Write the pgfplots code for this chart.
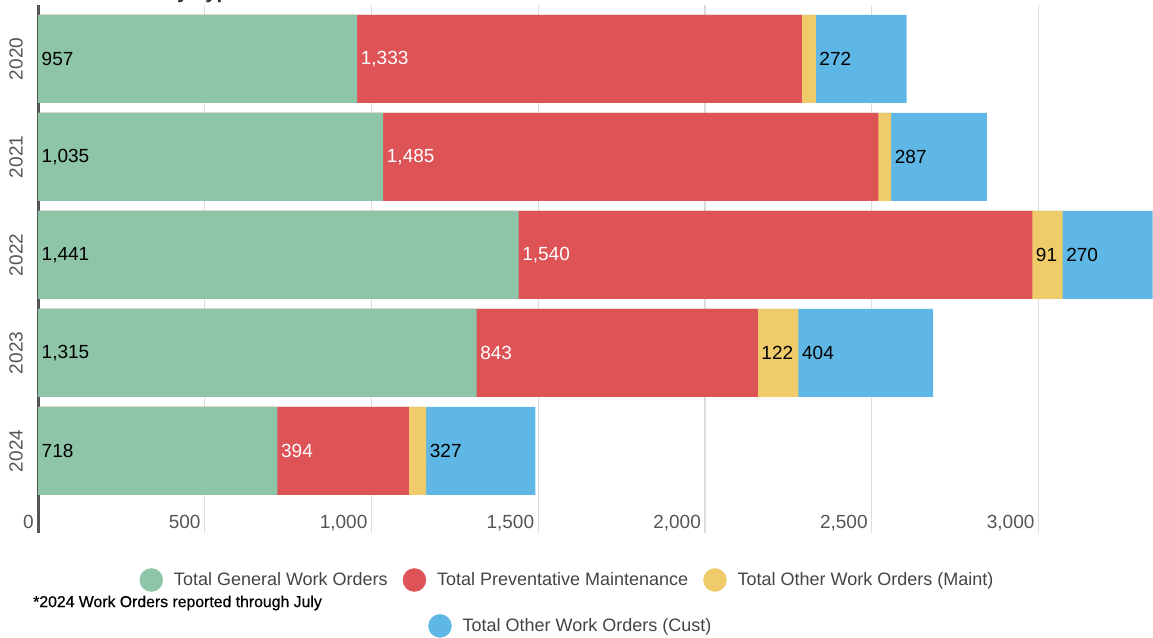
\documentclass[border=0pt]{standalone}
\usepackage{fontspec}
\setmainfont{Liberation Sans}
\newfontfamily\notefont[FakeBold=0.6]{Liberation Sans}
\usepackage{pgfplots}
\pgfplotsset{compat=1.18}
\usepackage{pgfplotstable}
\definecolor{gcol}{HTML}{8EC4A8}
\definecolor{rcol}{HTML}{DD5356}
\definecolor{ycol}{HTML}{F0CB6A}
\definecolor{bcol}{HTML}{5FB7E5}
\definecolor{gridcol}{HTML}{DCDCDC}
\definecolor{axcol}{HTML}{555555}
\definecolor{tickcol}{HTML}{555555}
\definecolor{legcol}{HTML}{444444}
\newcommand{\labfont}{\fontsize{19}{22}\selectfont}
\pgfplotstableread{
year pos G P M C
2020 4 957 1333 42 272
2021 3 1035 1485 38 287
2022 2 1441 1540 91 270
2023 1 1315 843 122 404
2024 0 718 394 52 327
}\datatable
\begin{document}
\begin{tikzpicture}[x=1pt,y=1pt]
\useasboundingbox (0,0) rectangle (1153,637);
\node[anchor=base west, inner sep=0pt, font=\fontsize{20.5}{24}\selectfont\bfseries, text=black!80] at (35,638) {Work Orders by Type};
\begin{axis}[
  at={(38pt,104pt)}, anchor=south west,
  scale only axis, width=1115pt, height=528pt,
  xmin=0, xmax=3343, ymin=-0.837, ymax=4.551,
  axis x line*=bottom, axis y line*=left,
  separate axis lines,
  x axis line style={draw=none},
  y axis line style={draw=axcol, line width=3pt, -},
  major tick length=0pt,
  xtick={0,500,1000,1500,2000,2500,3000},
  scaled x ticks=false,
  ytick={0,1,2,3,4},
  yticklabels={2024,2023,2022,2021,2020},
  xmajorgrids=true,
  major grid style={draw=gridcol, line width=1.3pt},
  /pgf/number format/.cd, 1000 sep={,}, assume math mode=true, /pgfplots/.cd,
  xticklabel style={anchor=base east, inner sep=0pt, xshift=-4pt, yshift=5pt, font=\labfont, text=tickcol},
  yticklabel style={rotate=90, anchor=south, inner sep=0pt, font=\labfont, text=tickcol},
  yticklabel shift=15pt,
  legend columns=3,
  legend style={at={(axis description cs:0.474,-0.089)}, anchor=center, draw=none, fill=none,
    font=\fontsize{18}{21}\selectfont, text=legcol,
    nodes={inner sep=0pt},
    cells={anchor=west},
    /tikz/every odd column/.append style={column sep=11pt},
    /tikz/every even column/.append style={column sep=15pt}},
]
% bars drawn as overlapping cumulative segments (longest first)
\addplot[xbar, bar width=88pt, bar shift=0pt, fill=bcol, draw=none, forget plot]
  table[x expr=\thisrow{G}+\thisrow{P}+\thisrow{M}+\thisrow{C}, y=pos] {\datatable};
\addplot[xbar, bar width=88pt, bar shift=0pt, fill=ycol, draw=none, forget plot]
  table[x expr=\thisrow{G}+\thisrow{P}+\thisrow{M}, y=pos] {\datatable};
\addplot[xbar, bar width=88pt, bar shift=0pt, fill=rcol, draw=none, forget plot]
  table[x expr=\thisrow{G}+\thisrow{P}, y=pos] {\datatable};
\addplot[xbar, bar width=88pt, bar shift=0pt, fill=gcol, draw=none, forget plot]
  table[x=G, y=pos] {\datatable};
% labels at segment starts
\addplot[draw=none, forget plot, point meta=explicit, nodes near coords,
  nodes near coords style={anchor=west, xshift=3.5pt, inner sep=0pt, text=black, font=\labfont}]
  table[x expr=0, y=pos, meta=G] {\datatable};
\addplot[draw=none, forget plot, point meta=explicit, nodes near coords,
  nodes near coords style={anchor=west, xshift=3.5pt, inner sep=0pt, text=white, font=\labfont}]
  table[x=G, y=pos, meta=P] {\datatable};
\addplot[draw=none, forget plot, point meta=explicit, nodes near coords,
  nodes near coords style={anchor=west, xshift=3.5pt, inner sep=0pt, text=black, font=\labfont}]
  coordinates {(2981,2) [91] (2158,1) [122]};
\addplot[draw=none, forget plot, point meta=explicit, nodes near coords,
  nodes near coords style={anchor=west, xshift=3.5pt, inner sep=0pt, text=black, font=\labfont}]
  table[x expr=\thisrow{G}+\thisrow{P}+\thisrow{M}, y=pos, meta=C] {\datatable};
\addlegendimage{legend image code/.code={\fill[gcol] (11.5pt,0pt) circle (11.5pt);}}
\addlegendentry{Total General Work Orders}
\addlegendimage{legend image code/.code={\fill[rcol] (11.5pt,0pt) circle (11.5pt);}}
\addlegendentry{Total Preventative Maintenance}
\addlegendimage{legend image code/.code={\fill[ycol] (11.5pt,0pt) circle (11.5pt);}}
\addlegendentry{Total Other Work Orders (Maint)}
\end{axis}
\begin{axis}[
  at={(38pt,104pt)}, anchor=south west,
  scale only axis, width=1115pt, height=528pt,
  hide axis, xmin=0, xmax=1, ymin=0, ymax=1,
  legend style={at={(axis description cs:0.477,-0.176)}, anchor=center, draw=none, fill=none,
    font=\fontsize{18}{21}\selectfont, text=legcol,
    nodes={inner sep=0pt},
    cells={anchor=west},
    /tikz/every odd column/.append style={column sep=11pt}},
]
\addlegendimage{legend image code/.code={\fill[bcol] (11.5pt,0pt) circle (11.5pt);}}
\addlegendentry{Total Other Work Orders (Cust)}
\end{axis}
\node[anchor=west, inner sep=0pt, font=\notefont\fontsize{15.8}{18}\selectfont] at (33,34) {*2024 Work Orders reported through July};
\end{tikzpicture}
\end{document}
